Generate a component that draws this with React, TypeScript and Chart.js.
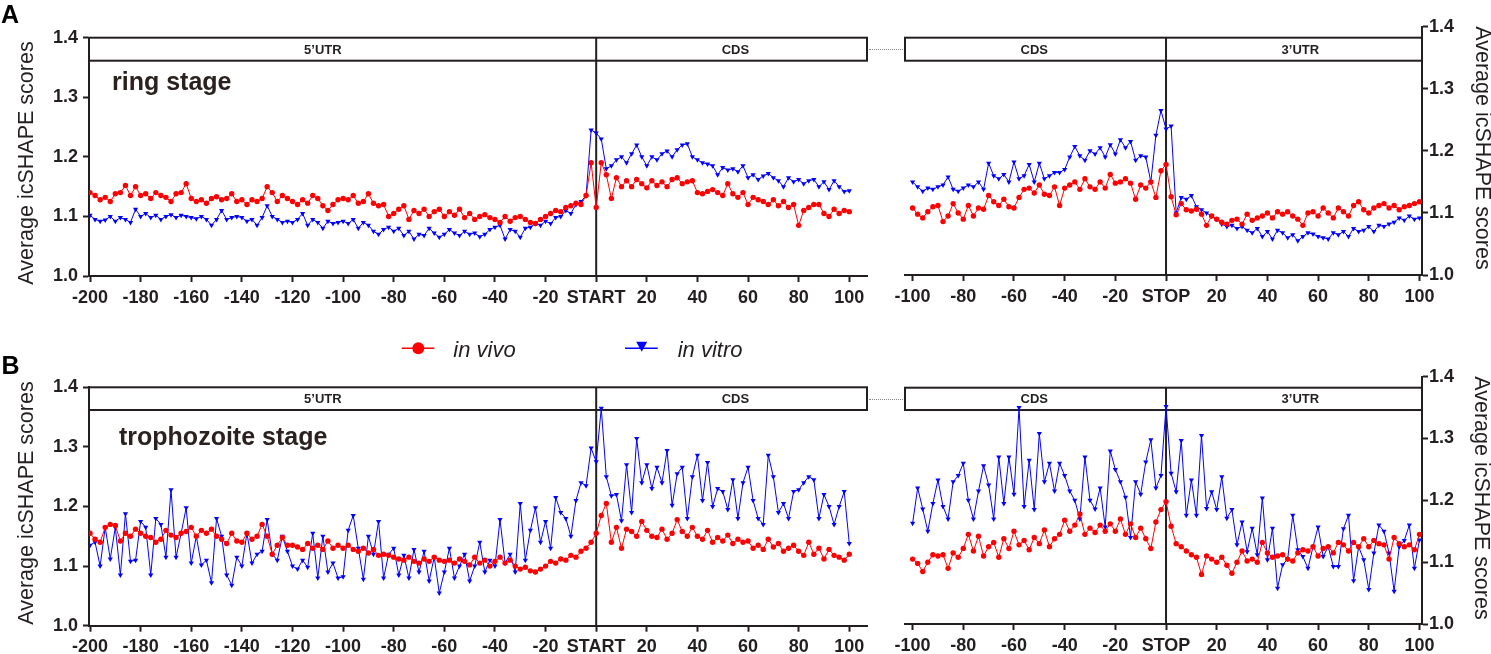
import { useEffect, useRef } from 'react';
import Chart from 'chart.js/auto';

// nucleotide positions, sampled every 2 nt
const startPos = Array.from({ length: 151 }, (_, i) => -200 + i * 2); // -200 .. 100
const stopPos = Array.from({ length: 101 }, (_, i) => -100 + i * 2); // -100 .. 100

const startTicks = [-200, -180, -160, -140, -120, -100, -80, -60, -40, -20, 0, 20, 40, 60, 80, 100];
const stopTicks = [-100, -80, -60, -40, -20, 0, 20, 40, 60, 80, 100];
const yTicks = [1.0, 1.1, 1.2, 1.3, 1.4];

// A: ring stage, around START codon
const ringStartVivo = [
  1.140, 1.135, 1.128, 1.132, 1.125, 1.138, 1.140, 1.152, 1.135, 1.150,
  1.135, 1.138, 1.130, 1.140, 1.135, 1.132, 1.125, 1.138, 1.140, 1.155,
  1.130, 1.125, 1.128, 1.122, 1.130, 1.133, 1.128, 1.130, 1.138, 1.125,
  1.128, 1.120, 1.128, 1.125, 1.130, 1.150, 1.140, 1.125, 1.135, 1.130,
  1.125, 1.120, 1.128, 1.122, 1.135, 1.130, 1.118, 1.110, 1.120, 1.128,
  1.130, 1.128, 1.135, 1.122, 1.125, 1.138, 1.122, 1.118, 1.120, 1.100,
  1.105, 1.112, 1.118, 1.095, 1.110, 1.105, 1.112, 1.100, 1.108, 1.112,
  1.100, 1.108, 1.102, 1.112, 1.098, 1.105, 1.095, 1.100, 1.103, 1.098,
  1.095, 1.090, 1.100, 1.092, 1.098, 1.100, 1.095, 1.090, 1.088, 1.095,
  1.100, 1.105, 1.110, 1.108, 1.115, 1.118, 1.122, 1.120, 1.135, 1.190,
  1.115, 1.190, 1.170, 1.130, 1.165, 1.150, 1.160, 1.150, 1.162, 1.155,
  1.148, 1.160, 1.152, 1.158, 1.150, 1.162, 1.165, 1.155, 1.158, 1.160,
  1.140, 1.138, 1.142, 1.145, 1.140, 1.135, 1.155, 1.138, 1.132, 1.140,
  1.120, 1.132, 1.128, 1.125, 1.120, 1.128, 1.118, 1.125, 1.115, 1.120,
  1.085, 1.110, 1.115, 1.120, 1.120, 1.105, 1.100, 1.112, 1.105, 1.110, 1.108,
];
const ringStartVitro = [
  1.102, 1.095, 1.092, 1.094, 1.100, 1.092, 1.098, 1.095, 1.090, 1.112,
  1.100, 1.105, 1.098, 1.102, 1.095, 1.100, 1.103, 1.098, 1.102, 1.100,
  1.098, 1.096, 1.100, 1.095, 1.085, 1.095, 1.110, 1.095, 1.098, 1.100,
  1.098, 1.092, 1.095, 1.085, 1.098, 1.118, 1.100, 1.095, 1.090, 1.092,
  1.090, 1.095, 1.105, 1.085, 1.095, 1.090, 1.080, 1.092, 1.088, 1.090,
  1.092, 1.088, 1.095, 1.080, 1.090, 1.085, 1.075, 1.070, 1.078, 1.082,
  1.075, 1.080, 1.068, 1.075, 1.062, 1.070, 1.068, 1.080, 1.072, 1.065,
  1.070, 1.078, 1.072, 1.068, 1.075, 1.070, 1.072, 1.066, 1.070, 1.078,
  1.082, 1.085, 1.062, 1.078, 1.075, 1.065, 1.080, 1.082, 1.088, 1.085,
  1.092, 1.088, 1.098, 1.100, 1.110, 1.105, 1.120, 1.125, 1.135, 1.245,
  1.240, 1.230, 1.180, 1.185, 1.195, 1.200, 1.190, 1.205, 1.220, 1.200,
  1.185, 1.200, 1.195, 1.205, 1.210, 1.200, 1.212, 1.220, 1.222, 1.200,
  1.195, 1.190, 1.188, 1.185, 1.170, 1.182, 1.178, 1.180, 1.175, 1.185,
  1.165, 1.170, 1.162, 1.168, 1.172, 1.165, 1.160, 1.150, 1.165, 1.158,
  1.162, 1.155, 1.160, 1.162, 1.150, 1.158, 1.145, 1.160, 1.150, 1.142, 1.143,
];

// A: ring stage, around STOP codon
const ringStopVivo = [
  1.108, 1.098, 1.092, 1.102, 1.110, 1.112, 1.086, 1.095, 1.115, 1.100,
  1.090, 1.112, 1.095, 1.108, 1.106, 1.128, 1.118, 1.112, 1.122, 1.110,
  1.108, 1.125, 1.138, 1.140, 1.132, 1.145, 1.130, 1.128, 1.142, 1.112,
  1.140, 1.145, 1.150, 1.138, 1.155, 1.142, 1.138, 1.150, 1.140, 1.162,
  1.148, 1.150, 1.155, 1.148, 1.122, 1.145, 1.140, 1.150, 1.125, 1.168,
  1.178, 1.126, 1.097, 1.115, 1.105, 1.103, 1.106, 1.098, 1.080, 1.095,
  1.090, 1.085, 1.082, 1.088, 1.090, 1.082, 1.098, 1.088, 1.092, 1.095,
  1.100, 1.092, 1.102, 1.098, 1.102, 1.095, 1.090, 1.080, 1.100, 1.102,
  1.095, 1.108, 1.100, 1.092, 1.108, 1.102, 1.095, 1.112, 1.118, 1.105,
  1.100, 1.108, 1.112, 1.115, 1.108, 1.112, 1.105, 1.110, 1.112, 1.115, 1.118,
];
const ringStopVitro = [
  1.150, 1.142, 1.135, 1.140, 1.138, 1.142, 1.145, 1.158, 1.138, 1.135,
  1.140, 1.145, 1.142, 1.150, 1.138, 1.180, 1.160, 1.155, 1.162, 1.150,
  1.182, 1.155, 1.160, 1.178, 1.150, 1.180, 1.155, 1.160, 1.165, 1.165,
  1.170, 1.190, 1.207, 1.192, 1.185, 1.200, 1.195, 1.205, 1.190, 1.210,
  1.195, 1.218, 1.205, 1.215, 1.185, 1.192, 1.190, 1.150, 1.225, 1.265,
  1.235, 1.240, 1.100, 1.125, 1.122, 1.128, 1.110, 1.105, 1.100, 1.095,
  1.090, 1.082, 1.078, 1.080, 1.075, 1.078, 1.072, 1.068, 1.075, 1.062,
  1.070, 1.058, 1.072, 1.068, 1.060, 1.065, 1.055, 1.062, 1.068, 1.066,
  1.062, 1.060, 1.058, 1.068, 1.065, 1.070, 1.062, 1.075, 1.070, 1.072,
  1.078, 1.070, 1.080, 1.078, 1.082, 1.085, 1.092, 1.088, 1.095, 1.090, 1.092,
];

// B: trophozoite stage, around START codon
const trophStartVivo = [
  1.155, 1.145, 1.140, 1.165, 1.170, 1.168, 1.142, 1.155, 1.150, 1.162,
  1.155, 1.150, 1.148, 1.140, 1.145, 1.160, 1.152, 1.148, 1.155, 1.158,
  1.165, 1.150, 1.160, 1.155, 1.162, 1.150, 1.145, 1.138, 1.155, 1.142,
  1.140, 1.155, 1.145, 1.150, 1.170, 1.150, 1.120, 1.135, 1.148, 1.135,
  1.135, 1.132, 1.128, 1.138, 1.130, 1.135, 1.128, 1.142, 1.130, 1.135,
  1.130, 1.135, 1.128, 1.125, 1.130, 1.122, 1.128, 1.118, 1.120, 1.118,
  1.115, 1.112, 1.110, 1.115, 1.108, 1.105, 1.112, 1.108, 1.115, 1.110,
  1.108, 1.110, 1.105, 1.112, 1.108, 1.102, 1.115, 1.105, 1.110, 1.100,
  1.108, 1.115, 1.105, 1.110, 1.100, 1.095, 1.098, 1.092, 1.090, 1.095,
  1.100, 1.108, 1.105, 1.112, 1.110, 1.118, 1.115, 1.125, 1.130, 1.140,
  1.155, 1.185, 1.205, 1.140, 1.165, 1.130, 1.162, 1.158, 1.150, 1.175,
  1.160, 1.150, 1.148, 1.162, 1.145, 1.155, 1.178, 1.158, 1.150, 1.165,
  1.150, 1.145, 1.160, 1.140, 1.148, 1.142, 1.152, 1.138, 1.145, 1.140,
  1.142, 1.130, 1.135, 1.128, 1.145, 1.132, 1.138, 1.125, 1.130, 1.135,
  1.125, 1.118, 1.140, 1.120, 1.130, 1.112, 1.128, 1.118, 1.115, 1.110, 1.120,
];
const trophStartVitro = [
  1.135, 1.140, 1.100, 1.165, 1.112, 1.165, 1.085, 1.188, 1.108, 1.110,
  1.175, 1.165, 1.085, 1.180, 1.170, 1.115, 1.228, 1.115, 1.155, 1.198,
  1.105, 1.150, 1.102, 1.110, 1.072, 1.180, 1.150, 1.085, 1.068, 1.115,
  1.100, 1.155, 1.105, 1.120, 1.125, 1.178, 1.120, 1.110, 1.150, 1.125,
  1.100, 1.095, 1.110, 1.098, 1.155, 1.080, 1.150, 1.090, 1.105, 1.080,
  1.082, 1.160, 1.185, 1.130, 1.078, 1.150, 1.120, 1.175, 1.080, 1.120,
  1.130, 1.085, 1.118, 1.080, 1.128, 1.090, 1.125, 1.075, 1.115, 1.055,
  1.090, 1.130, 1.080, 1.100, 1.120, 1.075, 1.100, 1.140, 1.090, 1.110,
  1.100, 1.178, 1.105, 1.120, 1.090, 1.205, 1.110, 1.160, 1.198, 1.140,
  1.175, 1.130, 1.215, 1.190, 1.180, 1.150, 1.210, 1.240, 1.235, 1.298,
  1.275, 1.365, 1.250, 1.218, 1.220, 1.176, 1.270, 1.190, 1.314, 1.240,
  1.270, 1.230, 1.266, 1.240, 1.294, 1.202, 1.255, 1.266, 1.180, 1.250,
  1.286, 1.210, 1.274, 1.200, 1.230, 1.225, 1.195, 1.245, 1.180, 1.240,
  1.266, 1.210, 1.180, 1.170, 1.286, 1.250, 1.190, 1.205, 1.180, 1.225,
  1.228, 1.240, 1.250, 1.245, 1.180, 1.220, 1.200, 1.170, 1.200, 1.225, 1.138,
];

// B: trophozoite stage, around STOP codon
const trophStopVivo = [
  1.105, 1.098, 1.085, 1.100, 1.112, 1.110, 1.112, 1.090, 1.115, 1.108,
  1.122, 1.145, 1.118, 1.142, 1.110, 1.125, 1.132, 1.108, 1.138, 1.122,
  1.150, 1.128, 1.135, 1.120, 1.140, 1.130, 1.152, 1.125, 1.138, 1.145,
  1.168, 1.150, 1.160, 1.178, 1.145, 1.155, 1.148, 1.160, 1.150, 1.162,
  1.150, 1.170, 1.145, 1.162, 1.140, 1.155, 1.138, 1.122, 1.165, 1.185,
  1.198, 1.158, 1.130, 1.125, 1.118, 1.112, 1.108, 1.080, 1.110, 1.105,
  1.100, 1.108, 1.095, 1.082, 1.100, 1.118, 1.102, 1.105, 1.100, 1.132,
  1.115, 1.108, 1.110, 1.112, 1.105, 1.102, 1.115, 1.120, 1.118, 1.125,
  1.110, 1.122, 1.125, 1.115, 1.132, 1.128, 1.118, 1.132, 1.125, 1.138,
  1.125, 1.135, 1.130, 1.128, 1.105, 1.140, 1.130, 1.125, 1.128, 1.120, 1.145,
];
const trophStopVitro = [
  1.163, 1.220, 1.186, 1.150, 1.195, 1.233, 1.190, 1.170, 1.230, 1.240,
  1.260, 1.200, 1.170, 1.215, 1.256, 1.225, 1.170, 1.270, 1.195, 1.270,
  1.210, 1.350, 1.190, 1.265, 1.185, 1.308, 1.230, 1.260, 1.215, 1.260,
  1.240, 1.215, 1.200, 1.170, 1.270, 1.200, 1.186, 1.220, 1.157, 1.280,
  1.250, 1.230, 1.205, 1.140, 1.230, 1.210, 1.262, 1.298, 1.220, 1.240,
  1.352, 1.244, 1.214, 1.297, 1.176, 1.233, 1.176, 1.305, 1.187, 1.214,
  1.185, 1.238, 1.171, 1.185, 1.128, 1.165, 1.117, 1.155, 1.112, 1.204,
  1.104, 1.155, 1.058, 1.096, 1.105, 1.176, 1.120, 1.109, 1.090, 1.125,
  1.157, 1.109, 1.125, 1.093, 1.093, 1.154, 1.176, 1.070, 1.125, 1.104,
  1.056, 1.115, 1.160, 1.150, 1.115, 1.053, 1.125, 1.135, 1.160, 1.090, 1.136,
];

const FONT = '"Liberation Sans", Arial, Helvetica, sans-serif';
const INK = '#231f20';
const RED = '#ff0000';
const BLUE = '#0000ff';

type Box = { left: number; top: number; width: number; height: number };
type Area = { left: number; right: number; top: number; bottom: number };
type Panel = {
  canvas: Box;
  area: Area;
  side: 'left' | 'right';
  xMin: number;
  xMax: number;
  xTicks: number[];
  zeroLabel: string;
  xAxisH: number;
  positions: number[];
  vivo: number[];
  vitro: number[];
  header: { top: number; bottom: number; labels: { at: number; text: string }[] };
};

const startHeader = [
  { at: -108, text: '5\u2019UTR' },
  { at: 55, text: 'CDS' },
];
const stopHeader = [
  { at: -52, text: 'CDS' },
  { at: 53, text: '3\u2019UTR' },
];

const panels: Panel[] = [
  {
    canvas: { left: 0, top: 0, width: 876, height: 312 },
    area: { left: 89, right: 867, top: 37.7, bottom: 276 },
    side: 'left', xMin: -200.4, xMax: 107, xTicks: startTicks, zeroLabel: 'START', xAxisH: 34,
    positions: startPos, vivo: ringStartVivo, vitro: ringStartVitro,
    header: { top: 1.4, bottom: 1.3614, labels: startHeader },
  },
  {
    canvas: { left: 880, top: 0, width: 611, height: 312 },
    area: { left: 905, right: 1422, top: 26.7, bottom: 275 },
    side: 'right', xMin: -103, xMax: 101, xTicks: stopTicks, zeroLabel: 'STOP', xAxisH: 34,
    positions: stopPos, vivo: ringStopVivo, vitro: ringStopVitro,
    header: { top: 1.3823, bottom: 1.3452, labels: stopHeader },
  },
  {
    canvas: { left: 0, top: 340, width: 876, height: 314 },
    area: { left: 89, right: 867, top: 387.3, bottom: 625.7 },
    side: 'left', xMin: -200.4, xMax: 107, xTicks: startTicks, zeroLabel: 'START', xAxisH: 28,
    positions: startPos, vivo: trophStartVivo, vitro: trophStartVitro,
    header: { top: 1.4, bottom: 1.3619, labels: startHeader },
  },
  {
    canvas: { left: 880, top: 340, width: 611, height: 314 },
    area: { left: 905, right: 1422, top: 376.7, bottom: 624 },
    side: 'right', xMin: -103, xMax: 101, xTicks: stopTicks, zeroLabel: 'STOP', xAxisH: 28,
    positions: stopPos, vivo: trophStopVivo, vitro: trophStopVitro,
    header: { top: 1.3822, bottom: 1.3461, labels: stopHeader },
  },
];

// header box with region names + vertical START/STOP line
const panelFrame = {
  id: 'panelFrame',
  beforeDatasetsDraw(chart: any, _args: any, opts: any) {
    const { ctx, chartArea, scales } = chart;
    const xs = scales.x;
    const ys = scales.y;
    const top = ys.getPixelForValue(opts.top);
    const bottom = ys.getPixelForValue(opts.bottom);
    ctx.save();
    ctx.strokeStyle = INK;
    ctx.lineWidth = 2;
    ctx.strokeRect(chartArea.left, top, chartArea.right - chartArea.left, bottom - top);
    const sx = xs.getPixelForValue(0);
    ctx.beginPath();
    ctx.moveTo(sx, top);
    ctx.lineTo(sx, chartArea.bottom);
    ctx.stroke();
    ctx.fillStyle = INK;
    ctx.font = `bold 13px ${FONT}`;
    ctx.textAlign = 'center';
    ctx.textBaseline = 'middle';
    for (const l of opts.labels) {
      ctx.fillText(l.text, xs.getPixelForValue(l.at), (top + bottom) / 2 + 1);
    }
    ctx.restore();
  },
};

const PanelChart = ({ p }: { p: Panel }) => {
  const ref = useRef<HTMLCanvasElement>(null);

  useEffect(() => {
    if (!ref.current) return;
    const yW = p.side === 'left' ? 60 : 50;
    const padding = {
      left: p.side === 'left' ? p.area.left - p.canvas.left - yW : p.area.left - p.canvas.left,
      right:
        p.side === 'left'
          ? p.canvas.left + p.canvas.width - p.area.right
          : p.canvas.left + p.canvas.width - p.area.right - yW,
      top: p.area.top - p.canvas.top,
      bottom: p.canvas.top + p.canvas.height - p.area.bottom - p.xAxisH,
    };
    const tickFont = { family: FONT, size: 18, weight: 'bold' as const };
    const grid = {
      display: true,
      drawOnChartArea: false,
      drawTicks: true,
      tickLength: 6,
      tickWidth: 2,
      tickColor: INK,
      color: INK,
    };
    const border = { display: true, color: INK, width: 2 };

    const chart = new Chart(ref.current, {
      type: 'line',
      data: {
        datasets: [
          {
            label: 'in vivo',
            data: p.positions.map((x, i) => ({ x, y: p.vivo[i] })),
            borderColor: RED,
            backgroundColor: RED,
            borderWidth: 1,
            pointStyle: 'circle',
            pointRadius: 2.7,
            pointBorderWidth: 0,
            pointBackgroundColor: RED,
          },
          {
            label: 'in vitro',
            data: p.positions.map((x, i) => ({ x, y: p.vitro[i] })),
            borderColor: BLUE,
            backgroundColor: BLUE,
            borderWidth: 1,
            pointStyle: 'triangle',
            pointRotation: 180,
            pointRadius: 3,
            pointBorderWidth: 0,
            pointBackgroundColor: BLUE,
          },
        ],
      },
      options: {
        animation: false,
        responsive: false,
        maintainAspectRatio: false,
        layout: { padding },
        elements: { line: { tension: 0 } },
        plugins: {
          legend: { display: false },
          tooltip: { enabled: false },
          // @ts-ignore
          panelFrame: p.header,
        },
        scales: {
          x: {
            type: 'linear',
            min: p.xMin,
            max: p.xMax,
            afterBuildTicks: (s: any) => {
              s.ticks = p.xTicks.map((value) => ({ value }));
            },
            afterFit: (s: any) => {
              s.height = p.xAxisH;
            },
            ticks: {
              autoSkip: false,
              maxRotation: 0,
              minRotation: 0,
              padding: 5,
              color: INK,
              font: tickFont,
              callback: (v: any) => (Number(v) === 0 ? p.zeroLabel : String(v)),
            },
            grid,
            border,
          },
          y: {
            type: 'linear',
            position: p.side,
            min: 1.0,
            max: 1.4,
            afterBuildTicks: (s: any) => {
              s.ticks = yTicks.map((value) => ({ value }));
            },
            afterFit: (s: any) => {
              s.width = yW;
            },
            ticks: {
              padding: p.side === 'left' ? 5 : 1,
              color: INK,
              font: tickFont,
              callback: (v: any) => Number(v).toFixed(1),
            },
            grid,
            border,
          },
        },
      },
      plugins: [panelFrame],
    });

    return () => {
      chart.destroy();
    };
  }, [p]);

  return (
    <canvas
      ref={ref}
      width={p.canvas.width}
      height={p.canvas.height}
      style={{
        position: 'absolute',
        left: p.canvas.left,
        top: p.canvas.top,
        width: p.canvas.width,
        height: p.canvas.height,
      }}
    />
  );
};

const txt = (extra: React.CSSProperties): React.CSSProperties => ({
  position: 'absolute',
  fontFamily: FONT,
  lineHeight: 1,
  whiteSpace: 'nowrap',
  color: INK,
  ...extra,
});

const YTitle = ({ cx, cy, side }: { cx: number; cy: number; side: 'left' | 'right' }) => (
  <div
    style={txt({
      left: cx,
      top: cy,
      fontSize: 21.5,
      transform: `translate(-50%, -50%) rotate(${side === 'left' ? -90 : 90}deg)`,
    })}
  >
    Average icSHAPE scores
  </div>
);

const App = () => {
  return (
    <div
      style={{
        position: 'fixed',
        left: 0,
        top: 0,
        width: 1491,
        height: 654,
        overflow: 'hidden',
        background: '#ffffff',
      }}
    >
      {panels.map((p, i) => (
        <PanelChart key={i} p={p} />
      ))}

      <div style={txt({ left: 1, top: 1.7, fontSize: 25, fontWeight: 'bold', color: '#000' })}>A</div>
      <div style={txt({ left: 1.5, top: 353.4, fontSize: 25, fontWeight: 'bold', color: '#000' })}>B</div>

      <div style={txt({ left: 112, top: 68.5, fontSize: 25, fontWeight: 'bold', color: '#2b211e' })}>ring stage</div>
      <div style={txt({ left: 119, top: 423.8, fontSize: 25, fontWeight: 'bold', color: '#2b211e' })}>
        trophozoite stage
      </div>

      <YTitle cx={26.5} cy={162.5} side="left" />
      <YTitle cx={26.5} cy={503} side="left" />
      <YTitle cx={1482} cy={148} side="right" />
      <YTitle cx={1481} cy={497.5} side="right" />

      {/* dotted connectors between the two header boxes */}
      <div style={{ position: 'absolute', left: 869, top: 49, width: 34, borderTop: '1.5px dotted #888' }} />
      <div style={{ position: 'absolute', left: 869, top: 398.5, width: 34, borderTop: '1.5px dotted #888' }} />

      {/* legend */}
      <svg style={{ position: 'absolute', left: 398, top: 338 }} width={40} height={21}>
        <line x1={3.7} y1={10.3} x2={36.3} y2={10.3} stroke={RED} strokeWidth={1.5} />
        <circle cx={20.3} cy={10.3} r={6} fill={RED} />
      </svg>
      <div style={txt({ left: 453.3, top: 338.7, fontSize: 22, fontStyle: 'italic' })}>in vivo</div>
      <svg style={{ position: 'absolute', left: 622, top: 338 }} width={40} height={21}>
        <line x1={3} y1={10.3} x2={35.7} y2={10.3} stroke={BLUE} strokeWidth={1.5} />
        <polygon points="14.2,3.7 25.2,3.7 19.7,13.7" fill={BLUE} />
      </svg>
      <div style={txt({ left: 677.7, top: 338.7, fontSize: 22, fontStyle: 'italic' })}>in vitro</div>
    </div>
  );
};

export default App;
